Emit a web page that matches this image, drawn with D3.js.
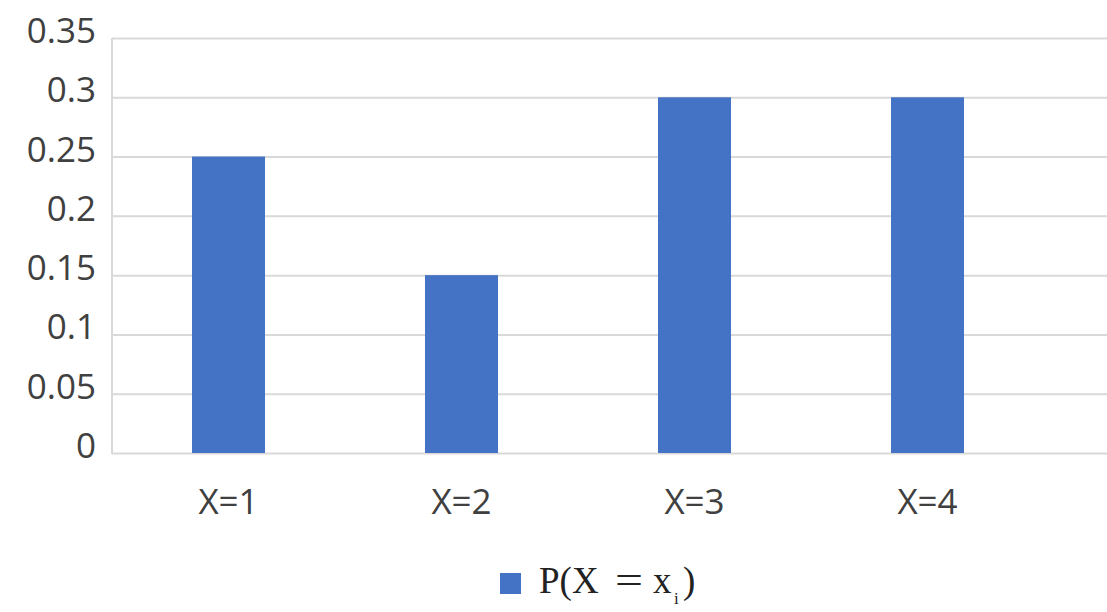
<!DOCTYPE html>
<html>
<head>
<meta charset="utf-8">
<script src="https://cdn.jsdelivr.net/npm/d3@7"></script>
<style>
  body { margin: 0; background: #fff; }
  svg { display: block; }
</style>
</head>
<body>
<svg id="chart"></svg>
<script>
// data
const categories = ["X=1", "X=2", "X=3", "X=4"];
const probs = [0.25, 0.15, 0.3, 0.3];
const yTicks = [0, 0.05, 0.1, 0.15, 0.2, 0.25, 0.3, 0.35];

const width = 1107, height = 612;
const plot = { left: 112, right: 1044, top: 38, bottom: 453 };
const barColor = "#4472c4";
const gridColor = "#d9d9d9";
const textColor = "#404040";

const svg = d3.select("#chart").attr("width", width).attr("height", height);

const x = d3.scaleBand().domain(categories).range([plot.left, plot.right]).padding(0);
const y = d3.scaleLinear().domain([0, 0.35]).range([plot.bottom, plot.top]);
const barW = 73;

// gridlines
svg.append("g")
  .selectAll("line")
  .data(yTicks)
  .enter()
  .append("line")
  .attr("x1", plot.left)
  .attr("x2", width)
  .attr("y1", (d) => y(d) + 0.5)
  .attr("y2", (d) => y(d) + 0.5)
  .attr("stroke", gridColor)
  .attr("stroke-width", 2);

// left axis line
svg.append("line")
  .attr("x1", plot.left).attr("x2", plot.left)
  .attr("y1", y(0.35)).attr("y2", y(0) + 1)
  .attr("stroke", gridColor)
  .attr("stroke-width", 2);

// y tick labels
svg.append("g")
  .selectAll("text")
  .data(yTicks)
  .enter()
  .append("text")
  .attr("x", 96)
  .attr("y", (d) => y(d) + 5)
  .attr("text-anchor", "end")
  .attr("font-family", "Open Sans, sans-serif")
  .attr("font-size", 35)
  .attr("fill", textColor)
  .text((d) => String(+d.toFixed(2)));

// bars
svg.append("g")
  .selectAll("rect")
  .data(probs)
  .enter()
  .append("rect")
  .attr("x", (d, i) => x(categories[i]) + x.bandwidth() / 2 - barW / 2)
  .attr("y", (d) => y(d))
  .attr("width", barW)
  .attr("height", (d) => y(0) - y(d))
  .attr("fill", barColor);

// x labels
svg.append("g")
  .selectAll("text")
  .data(categories)
  .enter()
  .append("text")
  .attr("x", (d) => x(d) + x.bandwidth() / 2)
  .attr("y", 514)
  .attr("text-anchor", "middle")
  .attr("font-family", "Open Sans, sans-serif")
  .attr("font-size", 35)
  .attr("fill", textColor)
  .text((d) => d);

// legend: P(X = x_i)
const legend = svg.append("g")
  .attr("font-family", "Liberation Serif, Times New Roman, serif")
  .attr("font-size", 37)
  .attr("fill", "#222");
legend.append("rect")
  .attr("x", 500).attr("y", 573)
  .attr("width", 21).attr("height", 21)
  .attr("fill", barColor);
legend.append("text").attr("x", 539).attr("y", 593).text("P(X");
legend.append("text").attr("x", 615).attr("y", 593)
  .attr("textLength", 28).attr("lengthAdjust", "spacingAndGlyphs").text("=");
legend.append("text").attr("x", 653).attr("y", 593).text("x");
legend.append("text").attr("x", 674).attr("y", 604).attr("font-size", 17).text("i");
legend.append("text").attr("x", 683).attr("y", 593).text(")");
</script>
</body>
</html>
